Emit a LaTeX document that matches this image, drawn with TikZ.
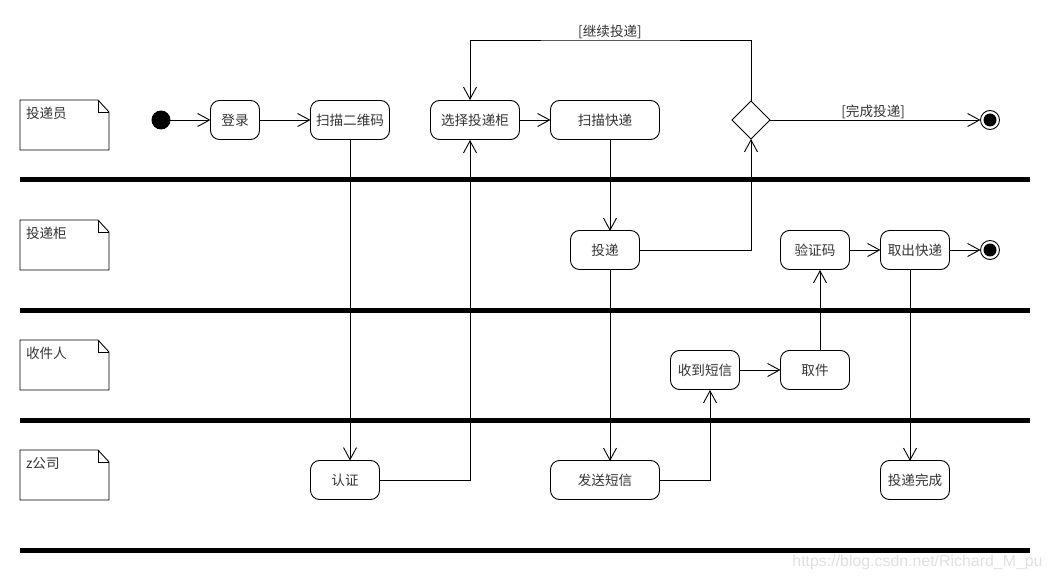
\documentclass[tikz,border=0pt]{standalone}
\usepackage{fontspec}
\setmainfont{Noto Sans CJK SC}
\newfontfamily\markfont{Liberation Sans}
\usetikzlibrary{arrows.meta,shapes.geometric}
\tikzset{
    >={Straight Barb[length=12pt,width=13pt]},
    every node/.style={font=\fontsize{13.6}{15}\selectfont,text=black!80,outer sep=0pt},
    actbox/.style={draw,text=black!80,rounded corners=9pt,minimum height=39pt,inner sep=0pt},
    decisionbox/.style={draw,diamond,aspect=1,minimum width=38pt,minimum height=38pt,inner sep=0pt},
    startdot/.style={draw,circle,fill=black,minimum size=18pt,inner sep=0pt},
    endring/.style={draw,circle,minimum size=19pt,inner sep=0pt},
    enddot/.style={circle,fill=black,minimum size=13pt,inner sep=0pt},
    lanebar/.style={line width=5pt},
    notetext/.style={anchor=west,inner sep=0pt},
    guardtext/.style={inner sep=0pt},
}
\begin{document}
\begin{tikzpicture}[x=1pt,y=-1pt,line width=0.9pt]
	\useasboundingbox (0,0) rectangle (1050,580);
	% lanes
	\foreach \y in {180,310,420,550}
		\draw[lanebar] (20,\y) -- (1030,\y);
	\foreach \y/\who in {100/投递员,220/投递柜,340/收件人,450/z公司}{
		\draw (20,\y) -- (98,\y) -- (109,\y+12) -- (109,\y+50) -- (20,\y+50) -- cycle;
		\draw (98,\y) -- (98,\y+12) -- (109,\y+12);
		\node[notetext] (note\y) at (26,\y+13) {\who};
	}
	% top lane
	\node[startdot] (start) at (161,120) {};
	\node[actbox,minimum width=49pt] (login) at (235,120) {登录};
	\node[actbox,minimum width=79pt] (scancode) at (350,120) {扫描二维码};
	\node[actbox,minimum width=89pt] (choose) at (475,120) {选择投递柜};
	\node[actbox,minimum width=109pt] (scanparcel) at (605,120) {扫描快递};
	\node[decisionbox] (decide) at (751,120) {};
	\node[endring] (finish) at (990,120) {};
	\node[enddot] (finishdot) at (finish) {};
	% cabinet lane
	\node[actbox,minimum width=69pt] (deliver) at (605,250) {投递};
	\node[actbox,minimum width=69pt] (verify) at (815,250) {验证码};
	\node[actbox,minimum width=69pt] (takeout) at (915,250) {取出快递};
	\node[endring] (finishb) at (990,250) {};
	\node[enddot] (finishbdot) at (finishb) {};
	% receiver lane
	\node[actbox,minimum width=69pt] (sms) at (705,370) {收到短信};
	\node[actbox,minimum width=69pt] (pickup) at (815,370) {取件};
	% company lane
	\node[actbox,minimum width=69pt] (auth) at (345,480) {认证};
	\node[actbox,minimum width=109pt] (sendsms) at (605,480) {发送短信};
	\node[actbox,minimum width=69pt] (done) at (915,480) {投递完成};
	% anchors off centre
	\coordinate (chooseup) at (470,140);
	\coordinate (choosedown) at (470,100);
	\coordinate (scanout) at (610,140);
	\coordinate (deliverin) at (610,231);
	\coordinate (deliverout) at (610,270);
	\coordinate (sendin) at (610,461);
	\coordinate (smsin) at (710,390);
	\coordinate (pickupout) at (820,350);
	\coordinate (verifyin) at (820,270);
	\coordinate (takeoutout) at (910,270);
	\coordinate (donein) at (910,461);
	% flow
	\draw[->] (start) -- (login);
	\draw[->] (login) -- (scancode);
	\draw[->] (scancode) -- (scancode |- auth.north);
	\draw[->] (auth.east) -| (chooseup);
	\draw[->] (choose) -- (scanparcel);
	\draw[->] (scanout) -- (deliverin);
	\draw[->] (deliver.east) -| (decide.south);
	\draw[->] (deliverout) -- (sendin);
	\draw[->] (sendsms.east) -| (smsin);
	\draw[->] (sms) -- (pickup);
	\draw[->] (pickupout) -- (verifyin);
	\draw[->] (verify) -- (takeout);
	\draw[->] (takeout) -- (finishb);
	\draw[->] (takeoutout) -- (donein);
	\draw[->] (decide.north) |- (610,40) node[guardtext,above=1pt] (guardgo) {[继续投递]} -| (choosedown);
	\draw[->] (decide) -- (finish) node[guardtext,pos=0.49,above=1pt] (guarddone) {[完成投递]};
	\node[font=\markfont\fontsize{15.9}{18}\selectfont,text=black!12,inner sep=0pt] (watermark) at (917.5,562) {https://blog.csdn.net/Richard\_M\_pu};
\end{tikzpicture}
\end{document}
